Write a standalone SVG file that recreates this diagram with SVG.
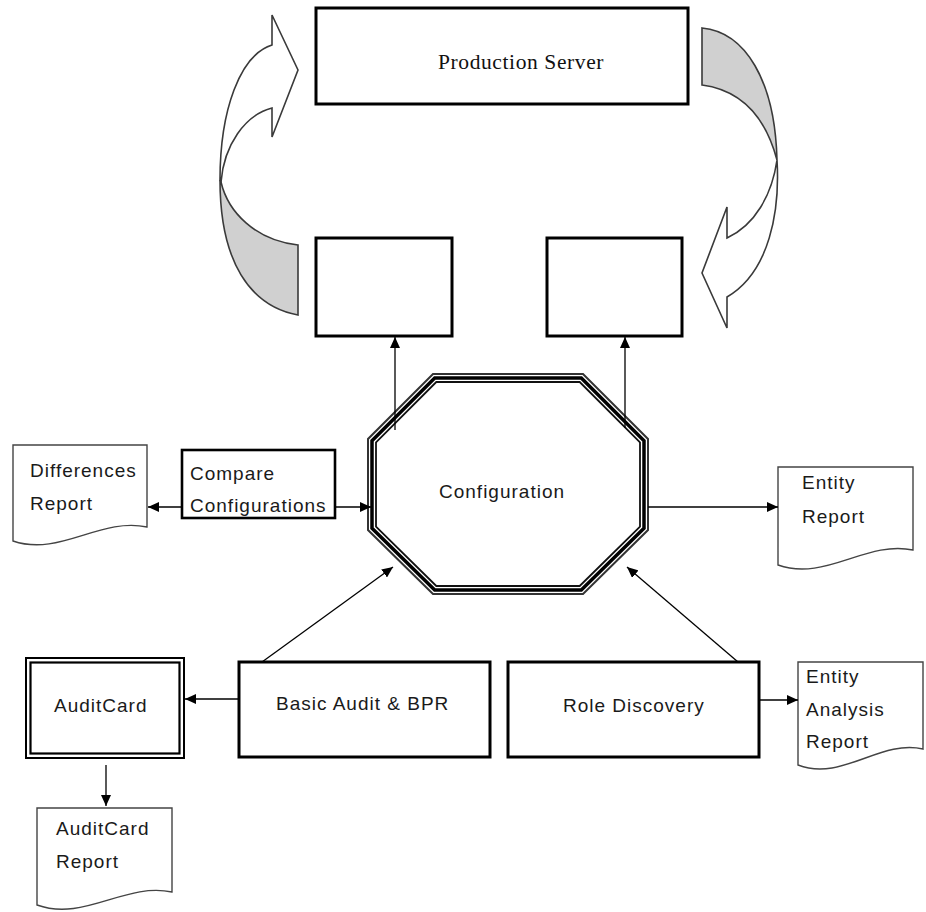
<svg xmlns="http://www.w3.org/2000/svg" width="926" height="912" viewBox="0 0 926 912">
<defs>
<style>
.box{fill:#fff;stroke:#000;stroke-width:3}
.doc{fill:#fff;stroke:#444;stroke-width:1.4}
.sans{font-family:"Liberation Sans",Arial,sans-serif;font-size:19px;letter-spacing:1px;fill:#1a1a1a}
.serif{font-family:"Liberation Serif","Times New Roman",serif;font-size:21.5px;letter-spacing:0.6px;fill:#111}
.con{stroke:#000;stroke-width:1.3;fill:none}
.curve{stroke:#3a3a3a;stroke-width:1.6}
</style>
<marker id="ah" markerWidth="11" markerHeight="10" refX="11" refY="5" orient="auto" markerUnits="userSpaceOnUse">
<path d="M0,0 L11,5 L0,10 Z" fill="#000"/>
</marker>
</defs>
<rect width="926" height="912" fill="#fff"/>

<g id="curved-arrow-left">
<path class="curve" fill="#d0d0d0" d="M220,180 C220,262 250,306 298,315 L298,245 C255,240 228,212 221,182 Z"/>
<path class="curve" fill="#fff" d="M220,180 C220,110 240,55 272,45 L272,15 L298,70 L272,137 L272,108 C245,115 224,145 221,182 Z"/>
</g>

<g id="curved-arrow-right">
<path class="curve" fill="#d0d0d0" d="M702,28 C745,32 775,80 777,160 C765,115 740,90 702,85 Z"/>
<path class="curve" fill="#fff" d="M777,160 C780,210 770,272 727,297 L727,328 L702,273 L727,207 L727,238 C755,225 772,195 777,160 Z"/>
</g>

<g id="production-server">
<rect class="box" x="316" y="8" width="372" height="96"/>
<text class="serif" x="438" y="69">Production Server</text>
</g>

<g id="box-left">
<rect class="box" x="316" y="238" width="136" height="98"/>
</g>

<g id="box-right">
<rect class="box" x="547" y="238" width="135" height="98"/>
</g>

<g id="configuration">
<polygon fill="#fff" stroke="#333" stroke-width="2" points="433,374 583,374 648,439 648,530 583,594 433,594 368,530 368,439"/>
<polygon fill="none" stroke="#000" stroke-width="3.5" points="434.7,378 581.3,378 644,440.7 644,528.3 581.3,590 434.7,590 372,528.3 372,440.7"/>
<polygon fill="none" stroke="#111" stroke-width="1.8" points="436.3,382 579.7,382 640,442.3 640,526.7 579.7,586 436.3,586 376,526.7 376,442.3"/>
<text class="sans" x="439" y="498">Configuration</text>
</g>

<g id="compare-configurations">
<rect class="box" x="182" y="450" width="153" height="68" style="stroke-width:2.6"/>
<text class="sans" x="190" y="480">Compare</text>
<text class="sans" x="190" y="512">Configurations</text>
</g>

<g id="differences-report">
<path class="doc" d="M13,445 H147 V527 C100,517 60,557 13,541 Z"/>
<text class="sans" x="30" y="477">Differences</text>
<text class="sans" x="30" y="510">Report</text>
</g>

<g id="entity-report">
<path class="doc" d="M778,467 H913 V550 C866,540 825,582 778,565 Z"/>
<text class="sans" x="802" y="489">Entity</text>
<text class="sans" x="802" y="523">Report</text>
</g>

<g id="auditcard">
<rect x="26" y="658" width="158" height="100" fill="#fff" stroke="#000" stroke-width="2"/>
<rect x="30.5" y="662.5" width="149" height="91" fill="none" stroke="#000" stroke-width="2.2"/>
<text class="sans" x="54" y="712">AuditCard</text>
</g>

<g id="auditcard-report">
<path class="doc" d="M37,808 H172 V892 C125,882 84,922 37,905 Z"/>
<text class="sans" x="56" y="835">AuditCard</text>
<text class="sans" x="56" y="868">Report</text>
</g>

<g id="basic-audit-bpr">
<rect class="box" x="239" y="662" width="251" height="95"/>
<text class="sans" x="276" y="710">Basic Audit &amp; BPR</text>
</g>

<g id="role-discovery">
<rect class="box" x="508" y="662" width="251" height="95"/>
<text class="sans" x="563" y="712">Role Discovery</text>
</g>

<g id="entity-analysis-report">
<path class="doc" d="M798,662 H923 V749 C880,739 842,782 798,765 Z"/>
<text class="sans" x="806" y="683">Entity</text>
<text class="sans" x="806" y="716">Analysis</text>
<text class="sans" x="806" y="748">Report</text>
</g>

<g id="connectors">
<line class="con" x1="395" y1="430" x2="395" y2="337" marker-end="url(#ah)"/>
<line class="con" x1="625" y1="428" x2="625" y2="337" marker-end="url(#ah)"/>
<line class="con" x1="335" y1="507" x2="371" y2="507" marker-end="url(#ah)"/>
<line class="con" x1="182" y1="507" x2="148" y2="507" marker-end="url(#ah)"/>
<line class="con" x1="648" y1="507" x2="778" y2="507" marker-end="url(#ah)"/>
<line class="con" x1="262" y1="662" x2="393" y2="567" marker-end="url(#ah)"/>
<line class="con" x1="738" y1="662" x2="627" y2="567" marker-end="url(#ah)"/>
<line class="con" x1="239" y1="699" x2="185" y2="699" marker-end="url(#ah)"/>
<line class="con" x1="106" y1="765" x2="106" y2="806" marker-end="url(#ah)"/>
<line class="con" x1="759" y1="700" x2="798" y2="700" marker-end="url(#ah)"/>
</g>
</svg>
